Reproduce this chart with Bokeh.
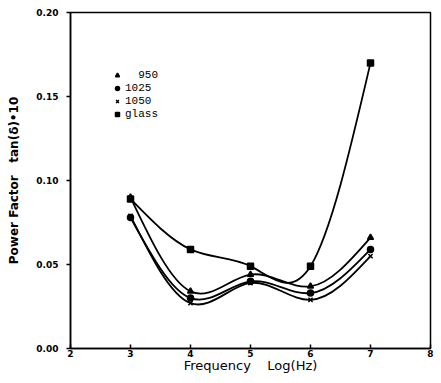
import numpy as np
from bokeh.plotting import figure
from bokeh.models import Range1d, FixedTicker, Legend, LegendItem, CustomJSTickFormatter
from bokeh.embed import file_html
from bokeh.resources import INLINE

# ---- data ----
freq = [3, 4, 5, 6, 7]
s950 = [0.090, 0.034, 0.044, 0.037, 0.066]
s1025 = [0.078, 0.030, 0.040, 0.033, 0.059]
s1050 = [0.079, 0.027, 0.039, 0.029, 0.055]
glass = [0.089, 0.059, 0.049, 0.049, 0.170]
series_names = ["\u00a0\u00a0950", "1025", "1050", "glass"]
x_ticks = [2, 3, 4, 5, 6, 7, 8]
y_ticks = [0.00, 0.05, 0.10, 0.15, 0.20]


def spline_bezier(xs, ys):
    """Natural cubic spline through the points, expressed as Bezier segments."""
    x = np.asarray(xs, float)
    y = np.asarray(ys, float)
    n = len(x)
    h = np.diff(x)
    A = np.zeros((n, n))
    r = np.zeros(n)
    A[0, 0] = A[-1, -1] = 1.0
    for i in range(1, n - 1):
        A[i, i - 1] = h[i - 1]
        A[i, i] = 2 * (h[i - 1] + h[i])
        A[i, i + 1] = h[i]
        r[i] = 6 * ((y[i + 1] - y[i]) / h[i] - (y[i] - y[i - 1]) / h[i - 1])
    M = np.linalg.solve(A, r)
    d = dict(x0=[], y0=[], x1=[], y1=[], cx0=[], cy0=[], cx1=[], cy1=[])
    for i in range(n - 1):
        hi = h[i]
        s = (y[i + 1] - y[i]) / hi
        m0 = s - hi * (2 * M[i] + M[i + 1]) / 6
        m1 = s + hi * (M[i] + 2 * M[i + 1]) / 6
        d["x0"].append(x[i]); d["y0"].append(y[i])
        d["x1"].append(x[i + 1]); d["y1"].append(y[i + 1])
        d["cx0"].append(x[i] + hi / 3); d["cy0"].append(y[i] + m0 * hi / 3)
        d["cx1"].append(x[i + 1] - hi / 3); d["cy1"].append(y[i + 1] - m1 * hi / 3)
    return d


p = figure(width=433, height=375, output_backend="svg", toolbar_location=None,
           x_range=Range1d(2, 8), y_range=Range1d(0, 0.20),
           min_border_left=70, min_border_right=3, min_border_top=12, min_border_bottom=22)
p.grid.visible = False
p.background_fill_color = "white"
p.border_fill_color = "white"
p.outline_line_color = "black"
p.outline_line_width = 1.5

sans = "DejaVu Sans"
nb = "\u00a0"
p.xaxis.ticker = FixedTicker(ticks=x_ticks)
p.yaxis.ticker = FixedTicker(ticks=y_ticks)
p.yaxis.formatter = CustomJSTickFormatter(code="return tick.toFixed(2);")
for ax in (p.xaxis[0], p.yaxis[0]):
    ax.axis_line_color = "black"
    ax.axis_line_width = 1.5
    ax.major_tick_line_width = 1.5
    ax.minor_tick_line_color = None
    ax.major_label_text_font = sans
    ax.major_label_text_font_style = "bold"
    ax.major_label_text_font_size = "9px"
    ax.major_label_text_color = "black"
    ax.axis_label_text_font = sans
    ax.axis_label_text_font_style = "bold"
    ax.axis_label_text_color = "black"
p.xaxis.major_tick_in = 4
p.xaxis.major_tick_out = 0
p.xaxis.major_label_standoff = 1
p.yaxis.major_tick_in = 0
p.yaxis.major_tick_out = 4
p.yaxis.major_label_standoff = 8
p.xaxis.axis_label = "Frequency" + nb * 4 + "Log(Hz)"
p.xaxis.axis_label_text_font_size = "13px"
p.xaxis.axis_label_text_font_style = "normal"
p.xaxis.axis_label_standoff = -2
p.yaxis.axis_label = "Power Factor" + nb * 3 + "tan(\u03b4)\u202210"
p.yaxis.axis_label_text_font_size = "12px"
p.yaxis.axis_label_standoff = 12

all_series = [s950, s1025, s1050, glass]
markers = ["triangle", "circle", "x", "square"]
items = []
for name, ys, mk in zip(series_names, all_series, markers):
    bz = spline_bezier(freq, ys)
    p.bezier(x0="x0", y0="y0", x1="x1", y1="y1", cx0="cx0", cy0="cy0",
             cx1="cx1", cy1="cy1", source=bz, line_color="black", line_width=1.8)
    r = p.scatter(freq, ys, marker=mk, size=6, line_color="black",
                  fill_color="black", line_width=1.5)
    items.append(LegendItem(label=name, renderers=[r]))

legend = Legend(items=items, location=(42, 228), orientation="vertical",
                background_fill_alpha=0, border_line_color=None,
                label_text_font="Liberation Mono", label_text_font_size="11px",
                label_text_color="black", glyph_width=10, glyph_height=10,
                label_height=10, label_standoff=3, spacing=1, padding=0, margin=0)
p.add_layout(legend, "center")

open("out.html", "w").write(file_html(p, INLINE))
